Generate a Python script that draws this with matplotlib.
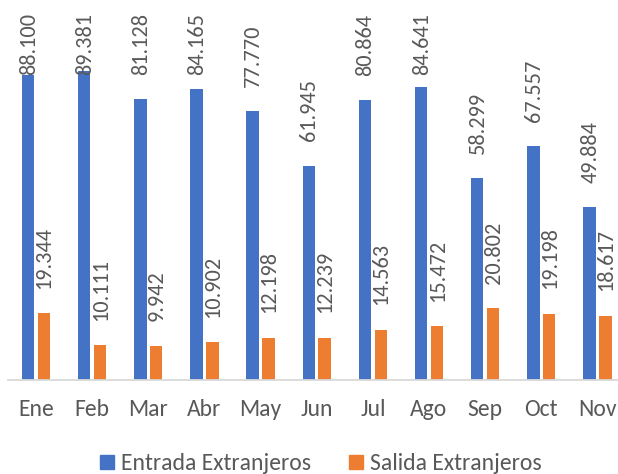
import matplotlib
matplotlib.use("Agg")
import matplotlib.pyplot as plt
from matplotlib.lines import Line2D
import numpy as np

months = ["Ene", "Feb", "Mar", "Abr", "May", "Jun", "Jul", "Ago", "Sep", "Oct", "Nov"]
entrada = [88100, 89381, 81128, 84165, 77770, 61945, 80864, 84641, 58299, 67557, 49884]
salida = [19344, 10111, 9942, 10902, 12198, 12239, 14563, 15472, 20802, 19198, 18617]
series_names = ["Entrada Extranjeros", "Salida Extranjeros"]

BLUE = "#4472C4"
ORANGE = "#ED7D31"
TEXT = "#595959"
FONT = ["Carlito", "Lato", "DejaVu Sans"]
plt.rcParams["font.family"] = FONT

W, H, DPI = 618, 474, 100
fig = plt.figure(figsize=(W / DPI, H / DPI), dpi=DPI)
# axes in pixel coordinates
left_px, right_px, bottom_px, top_px = 7.9, 625.5, 380, 13
ax = fig.add_axes([left_px / W, (H - bottom_px) / H,
                   (right_px - left_px) / W, (bottom_px - top_px) / H])

x = np.arange(len(months))
bw = 0.222
off = 0.141
px_per_unit = 3.46 / 1000
ax.set_xlim(-0.5, len(months) - 0.5)
ax.set_ylim(0, (bottom_px - top_px) / px_per_unit)

b1 = ax.bar(x - off, entrada, bw, color=BLUE, label=series_names[0])
b2 = ax.bar(x + off, salida, bw, color=ORANGE, label=series_names[1])

def fmt(v):
    return f"{v:,}".replace(",", ".")

fs = 17
lfs = 16
anns = []
for xs, vals in ((x - off, entrada), (x + off, salida)):
    for xi, v in zip(xs, vals):
        a = ax.annotate(fmt(v), xy=(xi, v), xytext=(0.5, 17.5), textcoords="offset points",
                        rotation=90, ha="center", va="bottom", fontsize=lfs,
                        color=TEXT, annotation_clip=False)
        anns.append(a)

for s in ["top", "left", "right"]:
    ax.spines[s].set_visible(False)
ax.spines["bottom"].set_color("#D9D9D9")
ax.spines["bottom"].set_linewidth(1.3)
ax.set_yticks([])
ax.set_xticks(x)
ax.set_xticklabels(months, fontsize=fs, color=TEXT)
ax.tick_params(axis="x", length=0, pad=14)

handles = [Line2D([], [], marker="s", linestyle="none", markersize=10.5, color=BLUE),
           Line2D([], [], marker="s", linestyle="none", markersize=10.5, color=ORANGE)]
leg = fig.legend(handles, series_names, loc="center", bbox_to_anchor=(0.5186, 0.022),
                 ncol=2, frameon=False, fontsize=fs, handlelength=0.6, handletextpad=0.3,
                 columnspacing=1.6, borderpad=0)
for t in leg.get_texts():
    t.set_color(TEXT)

# keep labels inside the figure (pin to top like the original)
fig.canvas.draw()
renderer = fig.canvas.get_renderer()
for a in anns:
    bb = a.get_window_extent(renderer)
    top_from_top = H - bb.y1
    if top_from_top < top_px:
        shift = (top_px - top_from_top) * 72 / DPI
        ox, oy = a.xyann
        a.xyann = (ox, oy - shift)

fig.savefig("out.png", dpi=DPI, facecolor="white")
